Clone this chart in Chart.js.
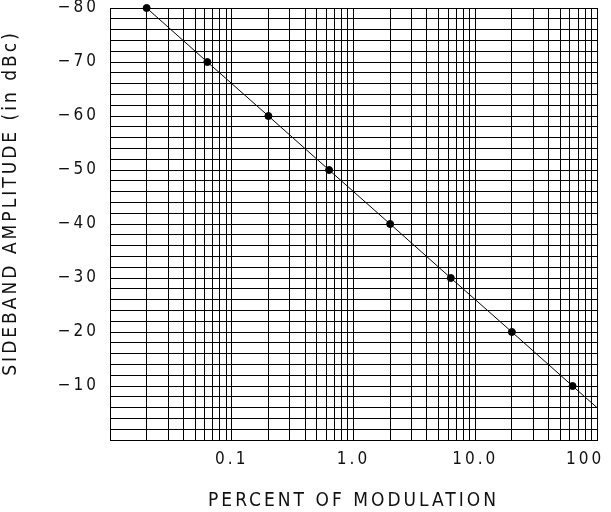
<!DOCTYPE html>
<html>
<head>
<meta charset="utf-8">
<script src="https://cdn.jsdelivr.net/npm/chart.js@4/dist/chart.umd.min.js"></script>
<style>
  body { margin: 0; background: #fff; }
  canvas { display: block; }
</style>
</head>
<body>
<canvas id="sbChart" width="611" height="512"></canvas>
<script>
// percent of modulation vs sideband level
const modulation = [0.02, 0.063, 0.2, 0.63, 2, 6.3, 20, 63];
const sideband = [-80, -70, -60, -50, -40, -30, -20, -10];
// line carries on to the right edge
const lineEnd = { x: 100, y: -6 };

const decades = [0.01, 0.1, 1, 10];
const steps = [1, 2, 3, 4, 5, 6, 7, 8, 9];
// "100" sits left of its gridline in the original, hence the padding spaces
const xLabels = { 0.1: '0.1', 1: '1.0', 10: '10.0', 100: '100\u00a0\u00a0\u00a0' };

const xGrid = [];
decades.forEach((d) => steps.forEach((s) => xGrid.push(+(d * s).toPrecision(3))));
xGrid.push(100);

const points = modulation.map((m, i) => ({ x: m, y: sideband[i] }));

const font = 'DejaVu Sans Condensed, DejaVu Sans, sans-serif';
const gap = '3px';

const spacing = {
  id: 'spacing',
  beforeUpdate(c) { c.ctx.letterSpacing = gap; },
  beforeLayout(c) { c.ctx.letterSpacing = gap; },
  beforeDraw(c) { c.ctx.letterSpacing = gap; },
};

const ctx = document.getElementById('sbChart').getContext('2d');
const chart = new Chart(ctx, {
  type: 'scatter',
  data: {
    datasets: [
      {
        data: [...points, lineEnd],
        showLine: true,
        borderColor: '#000',
        borderWidth: 1,
        pointRadius: 0,
        clip: false,
      },
      {
        data: points,
        backgroundColor: '#000',
        borderColor: '#000',
        pointRadius: 3.5,
        clip: false,
      },
    ],
  },
  plugins: [spacing],
  options: {
    responsive: false,
    animation: false,
    layout: { padding: { left: 0, right: 14, top: 8, bottom: 0 } },
    plugins: { legend: { display: false }, tooltip: { enabled: false } },
    scales: {
      x: {
        type: 'logarithmic',
        min: 0.01,
        max: 100,
        afterBuildTicks: (s) => { s.ticks = xGrid.map((v) => ({ value: v })); },
        afterFit: (s) => { s.height = 72; s.paddingLeft = 0; s.paddingRight = 0; },
        ticks: {
          autoSkip: false,
          maxRotation: 0,
          padding: 9,
          color: '#111',
          font: { family: font, size: 17 },
          callback: (v) => xLabels[+(+v).toPrecision(3)] || '',
        },
        grid: { color: '#000', lineWidth: 1, drawTicks: false },
        border: { color: '#000' },
        title: {
          display: true,
          text: 'PERCENT OF MODULATION',
          color: '#111',
          font: { family: font, size: 19 },
          padding: { top: 18, bottom: 0 },
        },
      },
      y: {
        type: 'linear',
        min: -80,
        max: 0,
        reverse: true,
        afterFit: (s) => { s.width = 110; s.paddingTop = 0; s.paddingBottom = 0; },
        ticks: {
          stepSize: 2,
          autoSkip: false,
          padding: 11,
          color: '#111',
          font: { family: font, size: 17 },
          callback: (v) => (v % 10 === 0 && v !== 0 ? '\u2212' + Math.abs(v) : ''),
        },
        grid: { color: '#000', lineWidth: 1, drawTicks: false },
        border: { color: '#000' },
        title: {
          display: true,
          // leading spaces push the label up, as in the original
          text: '\u00a0\u00a0\u00a0\u00a0\u00a0SIDEBAND AMPLITUDE (in dBc)',
          color: '#111',
          font: { family: font, size: 19 },
          padding: { top: 0, bottom: 0 },
        },
      },
    },
  },
});
</script>
</body>
</html>
